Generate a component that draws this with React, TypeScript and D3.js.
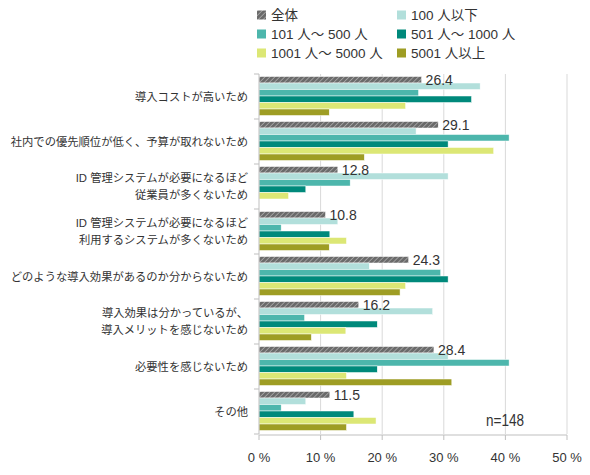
import * as d3 from "d3";

const categories = [
  ["導入コストが高いため"],
  ["社内での優先順位が低く、予算が取れないため"],
  ["ID 管理システムが必要になるほど", "従業員が多くないため"],
  ["ID 管理システムが必要になるほど", "利用するシステムが多くないため"],
  ["どのような導入効果があるのか分からないため"],
  ["導入効果は分かっているが、", "導入メリットを感じないため"],
  ["必要性を感じないため"],
  ["その他"],
];

const seriesNames = [
  "全体",
  "100 人以下",
  "101 人～ 500 人",
  "501 人～ 1000 人",
  "1001 人～ 5000 人",
  "5001 人以上",
];

const total = [26.4, 29.1, 12.8, 10.8, 24.3, 16.2, 28.4, 11.5];
const under100 = [35.9, 25.5, 30.7, 12.8, 17.9, 28.2, 30.7, 7.6];
const s101to500 = [25.9, 40.6, 14.8, 3.6, 29.5, 7.4, 40.6, 3.6];
const s501to1000 = [34.5, 30.7, 7.6, 11.5, 30.7, 19.2, 19.2, 15.4];
const s1001to5000 = [23.8, 38.1, 4.8, 14.2, 23.8, 14.1, 14.2, 19.0];
const over5001 = [11.4, 17.1, 0, 11.4, 22.9, 8.5, 31.3, 14.2];

const seriesValues = [total, under100, s101to500, s501to1000, s1001to5000, over5001];
const xTicks = [0, 10, 20, 30, 40, 50];

const colors = ["url(#hatch)", "#b2dfdb", "#4db6ac", "#00897b", "#dce775", "#9e9d24"];
const font = "'Liberation Sans', 'Noto Sans CJK JP', sans-serif";
const textColor = "#333";

export default function App() {
  const width = 590;
  const height = 475;
  const left = 259;
  const right = 567;
  const top = 74;
  const bottom = 434;

  const x = d3.scaleLinear().domain([0, 50]).range([left, right]);
  const idx = categories.map((_, i) => String(i));
  const y0 = d3.scaleBand().domain(idx).range([top, bottom]);
  const y1 = d3
    .scaleBand()
    .domain(seriesNames)
    .range([2.5, y0.bandwidth() - 3.5]);

  const legendPos = [
    [257, 15],
    [397, 15],
    [257, 34],
    [397, 34],
    [257, 53],
    [397, 53],
  ];

  return (
    <svg width={width} height={height} style={{ position: "absolute", left: 0, top: 0 }}>
      <defs>
        <pattern id="hatch" width="3.5" height="3.5" patternUnits="userSpaceOnUse" patternTransform="rotate(45)">
          <rect width="3.5" height="3.5" fill="#6a6a6a" />
          <line x1="0" y1="0" x2="0" y2="3.5" stroke="#b8b8b8" strokeWidth="1.3" />
        </pattern>
      </defs>
      <rect width={width} height={height} fill="#fff" />

      {/* legend */}
      {seriesNames.map((name, i) => (
        <g key={name}>
          <rect
            x={legendPos[i][0]}
            y={legendPos[i][1] - 4.5}
            width={9}
            height={9}
            fill={colors[i]}
          />
          <text
            x={legendPos[i][0] + 14}
            y={legendPos[i][1]}
            dy="0.36em"
            fontFamily={font}
            fontSize={13.5}
            fill={textColor}
          >
            {name}
          </text>
        </g>
      ))}

      {/* grid */}
      {xTicks.slice(1).map((t) => (
        <line key={t} x1={x(t)} x2={x(t)} y1={top} y2={bottom} stroke="#d9d9d9" />
      ))}

      {/* bars */}
      {idx.map((c, ci) => (
        <g key={c} transform={`translate(0,${y0(c)})`}>
          {seriesNames.map((s, si) => {
            const v = seriesValues[si][ci];
            if (!v) return null;
            return (
              <rect
                key={s}
                x={x(0)}
                y={y1(s)}
                width={x(v) - x(0)}
                height={y1.bandwidth()}
                fill={colors[si]}
                stroke="#fff"
                strokeWidth={0.5}
              />
            );
          })}
          <text
            x={x(total[ci]) + 4}
            y={(y1(seriesNames[0]) || 0) + y1.bandwidth() / 2}
            dy="0.36em"
            fontFamily={font}
            fontSize={14}
            fill={textColor}
          >
            {total[ci].toFixed(1)}
          </text>
        </g>
      ))}

      {/* y axis */}
      <line x1={left} x2={left} y1={top} y2={bottom} stroke="#bfbfbf" />
      {d3.range(categories.length + 1).map((i) => {
        const yy = top + i * y0.step();
        return <line key={i} x1={left - 5} x2={left} y1={yy} y2={yy} stroke="#bfbfbf" />;
      })}
      {categories.map((lines, ci) => {
        const cy = (y0(String(ci)) || 0) + y0.bandwidth() / 2;
        return (
          <text
            key={ci}
            textAnchor="end"
            fontFamily={font}
            fontSize={11.3}
            fill={textColor}
          >
            {lines.map((ln, li) => (
              <tspan
                key={li}
                x={248}
                y={cy + (li - (lines.length - 1) / 2) * 17}
                dy="0.36em"
              >
                {ln}
              </tspan>
            ))}
          </text>
        );
      })}

      {/* x axis */}
      <line x1={left} x2={right} y1={bottom + 1} y2={bottom + 1} stroke="#bfbfbf" />
      {xTicks.map((t) => (
        <g key={t}>
          <line x1={x(t)} x2={x(t)} y1={bottom + 1} y2={bottom + 6} stroke="#bfbfbf" />
          <text
            x={x(t)}
            y={457}
            textAnchor="middle"
            dy="0.36em"
            fontFamily={font}
            fontSize={13}
            fill={textColor}
          >
            {`${t} %`}
          </text>
        </g>
      ))}

      <text
        x={486}
        y={420}
        dy="0.36em"
        fontFamily={font}
        fontSize={16}
        textLength={38}
        lengthAdjust="spacingAndGlyphs"
        fill={textColor}
      >
        n=148
      </text>
    </svg>
  );
}
